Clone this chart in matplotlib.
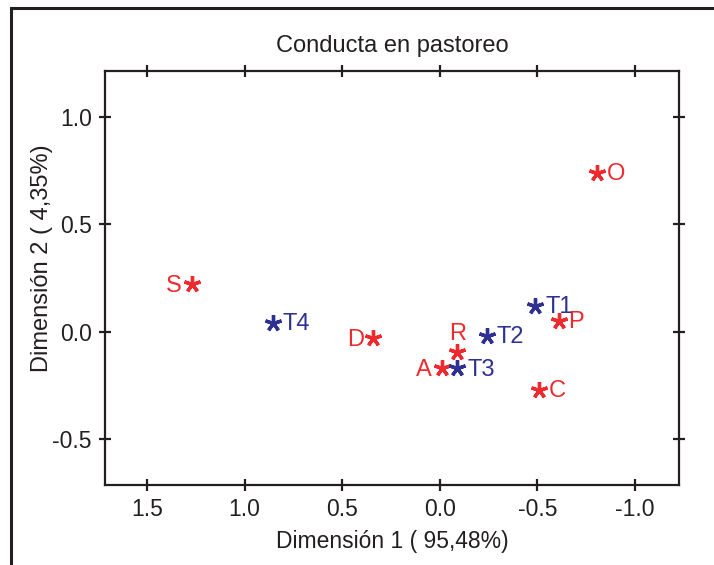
import matplotlib
matplotlib.use("Agg")
import matplotlib.pyplot as plt
from matplotlib.patches import Rectangle

plt.rcParams['font.family'] = ['Liberation Sans', 'DejaVu Sans']

# Data
labels = ["O", "S", "D", "R", "A", "P", "C", "T4", "T3", "T2", "T1"]
dim1 = [-0.805, 1.27, 0.34, -0.09, -0.01, -0.61, -0.51, 0.856, -0.09, -0.24, -0.49]
dim2 = [0.74, 0.22, -0.03, -0.093, -0.17, 0.05, -0.27, 0.04, -0.17, -0.02, 0.12]
groups = ["r", "r", "r", "r", "r", "r", "r", "b", "b", "b", "b"]
label_side = ["right", "left", "left", "top", "left", "right", "right", "right", "right", "right", "right"]

xticks = [1.5, 1.0, 0.5, 0.0, -0.5, -1.0]
yticks = [1.0, 0.5, 0.0, -0.5]

RED = "#EE2A2E"
BLUE = "#2E3192"
DARK = "#231F20"
FS = 17

fig = plt.figure(figsize=(7.14, 5.65), dpi=100)
# figure frame (cropped on right and bottom)
fig.patches.append(Rectangle((11 / 714, -0.1), 1.2, 1 - 8 / 565 + 0.1,
                             transform=fig.transFigure, fill=False,
                             edgecolor=DARK, linewidth=2.2))

ax = fig.add_axes([105 / 714, 1 - 485 / 565, (679 - 105) / 714, (485 - 71) / 565])
ax.set_xlim(1.715, -1.226)
ax.set_ylim(-0.714, 1.214)

for x, y, lab, g, side in zip(dim1, dim2, labels, groups, label_side):
    c = RED if g == "r" else BLUE
    ax.plot([x], [y], linestyle="none", marker=(5, 2, 0), markersize=12,
            markeredgewidth=2.4, color=c)
    if side == "right":
        ax.annotate(lab, (x, y), xytext=(7, -1), textcoords="offset points",
                    ha="left", va="center", color=c, fontsize=FS)
    elif side == "left":
        ax.annotate(lab, (x, y), xytext=(-7, -1), textcoords="offset points",
                    ha="right", va="center", color=c, fontsize=FS)
    else:
        ax.annotate(lab, (x, y), xytext=(0, 5), textcoords="offset points",
                    ha="center", va="bottom", color=c, fontsize=FS)

ax.set_xticks(xticks)
ax.set_xticklabels([f"{t:.1f}" for t in xticks])
ax.set_yticks(yticks)
ax.set_yticklabels([f"{t:.1f}" for t in yticks])
ax.tick_params(direction="inout", length=9, width=1.6, color=DARK,
               labelsize=16.5, labelcolor=DARK, top=True, right=True, pad=5)
for s in ax.spines.values():
    s.set_linewidth(1.6)
    s.set_color(DARK)

ax.set_title("Conducta en pastoreo", fontsize=FS, color=DARK, pad=14)
ax.set_xlabel("Dimensión 1 ( 95,48%)", fontsize=16.5, color=DARK, labelpad=6)
ax.set_ylabel("Dimensión 2 ( 4,35%)", fontsize=FS, color=DARK, labelpad=1)
ax.yaxis.set_label_coords(-0.0904, 0.548)

fig.savefig("out.png", dpi=100)
